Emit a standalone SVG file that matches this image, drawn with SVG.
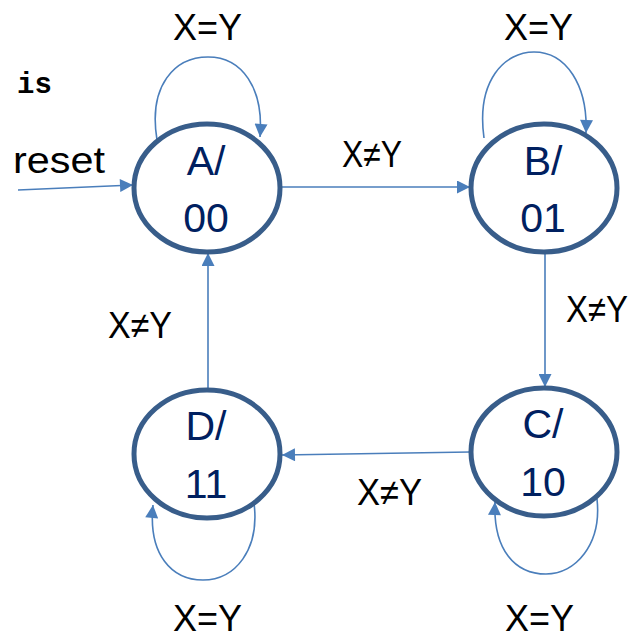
<svg xmlns="http://www.w3.org/2000/svg" width="638" height="641" viewBox="0 0 638 641">
<style>
.node{fill:#fff;stroke:#385D8A;stroke-width:5}
.nt{font-family:"Liberation Sans",Arial,sans-serif;font-size:41px;fill:#002060;text-anchor:middle}
.lbl{font-family:"Liberation Sans",Arial,sans-serif;font-size:37px;fill:#000}
.edge{fill:none;stroke:#4A7EBB;stroke-width:1.6}
</style>
<defs>
<marker id="ah" viewBox="0 0 10 10" refX="10" refY="5" markerWidth="15" markerHeight="13" markerUnits="userSpaceOnUse" orient="auto">
<path d="M0,0 L10,5 L0,10 z" fill="#4A7EBB"/>
</marker>
</defs>
<rect width="638" height="641" fill="#fff"/>
<g id="connectors">
<path class="edge" d="M18,190 L133,185" marker-end="url(#ah)"/>
<path class="edge" d="M282,187 L470,187" marker-end="url(#ah)"/>
<path class="edge" d="M545,253 L545,387" marker-end="url(#ah)"/>
<path class="edge" d="M470,452 L282,455" marker-end="url(#ah)"/>
<path class="edge" d="M208,390 L208,253" marker-end="url(#ah)"/>
<path class="edge" d="M157,140 C148,85 175,57 208,57 C242,57 264,88 260,137" marker-end="url(#ah)"/>
<path class="edge" d="M484,138 C476,80 505,52 534,52 C566,52 588,85 586,133" marker-end="url(#ah)"/>
<path class="edge" d="M254,503 C260,550 235,580 203,580 C172,580 148,555 153,505" marker-end="url(#ah)"/>
<path class="edge" d="M597,499 C602,545 575,574 546,574 C515,574 493,550 495,502" marker-end="url(#ah)"/>
</g>
<g id="labels">
<text class="lbl" x="173" y="40" textLength="69" lengthAdjust="spacingAndGlyphs">X=Y</text>
<text class="lbl" x="504" y="40" textLength="69" lengthAdjust="spacingAndGlyphs">X=Y</text>
<text class="lbl" x="342" y="167" textLength="60" lengthAdjust="spacingAndGlyphs">X≠Y</text>
<text class="lbl" x="566" y="322" font-size="35" textLength="62" lengthAdjust="spacingAndGlyphs">X≠Y</text>
<text class="lbl" x="108" y="338" textLength="64" lengthAdjust="spacingAndGlyphs">X≠Y</text>
<text class="lbl" x="357" y="505" textLength="65" lengthAdjust="spacingAndGlyphs">X≠Y</text>
<text class="lbl" x="173" y="631" font-size="35" textLength="69" lengthAdjust="spacingAndGlyphs">X=Y</text>
<text class="lbl" x="505" y="631" font-size="35" textLength="69" lengthAdjust="spacingAndGlyphs">X=Y</text>
<text class="lbl" x="13" y="173" textLength="92" lengthAdjust="spacingAndGlyphs">reset</text>
<text x="17" y="93" font-family="'Liberation Mono','Courier New',monospace" font-weight="bold" font-size="29" fill="#000">is</text>
</g>
<g id="A"><ellipse class="node" cx="207" cy="188" rx="73" ry="64"/><text class="nt" x="206" y="175">A/</text><text class="nt" x="206" y="232">00</text></g>
<g id="B"><ellipse class="node" cx="544" cy="188" rx="73" ry="64"/><text class="nt" x="543" y="175">B/</text><text class="nt" x="543" y="232">01</text></g>
<g id="C"><ellipse class="node" cx="544" cy="452" rx="73" ry="64"/><text class="nt" x="543" y="438">C/</text><text class="nt" x="543" y="496">10</text></g>
<g id="D"><ellipse class="node" cx="207" cy="454" rx="73" ry="64"/><text class="nt" x="206" y="440">D/</text><text class="nt" x="206" y="498">11</text></g>
</svg>
